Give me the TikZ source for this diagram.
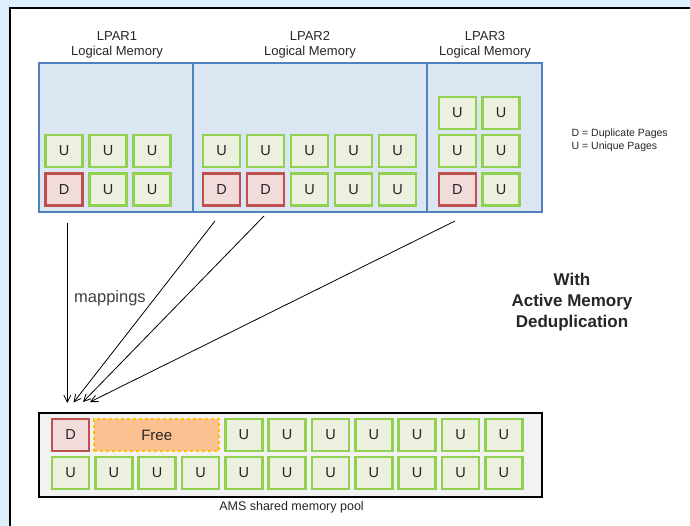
\documentclass[tikz,border=0pt]{standalone}
\usepackage{fontspec}
\setmainfont{Liberation Sans}
\usetikzlibrary{arrows.meta}
\definecolor{bgblue}{HTML}{DDEEFD}
\definecolor{lparfill}{HTML}{DCE6F2}
\definecolor{lparline}{HTML}{4F81BD}
\definecolor{ugreen}{HTML}{92D050}
\definecolor{ufill}{HTML}{EBF1DE}
\definecolor{dred}{HTML}{C0504D}
\definecolor{dfill}{HTML}{F2DCDB}
\definecolor{freefill}{HTML}{FAC090}
\definecolor{freeline}{HTML}{FFC000}
\definecolor{poolfill}{HTML}{F2F2F2}
\definecolor{txt}{HTML}{262626}
\tikzset{
  tile/.style={rectangle, minimum width=37pt, minimum height=32pt, inner sep=0pt,
    line width=2.5pt, text=txt, font=\fontsize{14.5}{16}\selectfont},
  upage/.style={tile, draw=ugreen, fill=ufill},
  dpage/.style={tile, draw=dred, fill=dfill},
  freebox/.style={rectangle, minimum width=125pt, minimum height=32pt, inner sep=0pt,
    draw=freeline, fill=freefill, dashed, line width=1.5pt, text=txt,
    font=\fontsize{15}{17}\selectfont},
  lpar/.style={draw=lparline, fill=lparfill, line width=1.8pt},
  lbl/.style={font=\fontsize{13}{15}\selectfont, text=txt, inner sep=0pt},
  legend/.style={font=\fontsize{10.5}{12}\selectfont, text=txt, inner sep=0pt, anchor=west},
  maparrow/.style={-{Straight Barb[length=7pt,width=7pt]}, line width=0.8pt, black},
}
\begin{document}
\begin{tikzpicture}[x=1pt,y=-1pt]
\useasboundingbox (0,0) rectangle (690,526);
\fill[bgblue] (0,0) rectangle (690,526);
\fill[white] (10,8) rectangle (690,526);
\draw[line width=1.2pt] (10,526) -- (10,8) -- (690,8);

% LPAR boxes
\draw[lpar] (39,63) rectangle (193,212);
\draw[lpar] (193,63) rectangle (427,212);
\draw[lpar] (427,63) rectangle (542,212);

\node[lbl] (l1a) at (117,36) {LPAR1};
\node[lbl] (l1b) at (117,52) {Logical Memory};
\node[lbl] (l2a) at (310,36) {LPAR2};
\node[lbl] (l2b) at (310,52) {Logical Memory};
\node[lbl] (l3a) at (485,36) {LPAR3};
\node[lbl] (l3b) at (485,52) {Logical Memory};

% LPAR1 pages
\node[upage] (p1a) at (64,151) {U};
\node[upage] (p1b) at (108,151) {U};
\node[upage] (p1c) at (152,151) {U};
\node[dpage] (p1d) at (64,189.5) {D};
\node[upage] (p1e) at (108,189.5) {U};
\node[upage] (p1f) at (152,189.5) {U};

% LPAR2 pages
\foreach \x [count=\i] in {221.5,265.5,309.5,353.5,397.5} {
  \node[upage] (p2t\i) at (\x,151) {U};
}
\node[dpage] (p2b1) at (221.5,189.5) {D};
\node[dpage] (p2b2) at (265.5,189.5) {D};
\node[upage] (p2b3) at (309.5,189.5) {U};
\node[upage] (p2b4) at (353.5,189.5) {U};
\node[upage] (p2b5) at (397.5,189.5) {U};

% LPAR3 pages
\node[upage] (p3a) at (457.3,113) {U};
\node[upage] (p3b) at (501,113) {U};
\node[upage] (p3c) at (457.3,151) {U};
\node[upage] (p3d) at (501,151) {U};
\node[dpage] (p3e) at (457.3,189.5) {D};
\node[upage] (p3f) at (501,189.5) {U};

% legend
\node[legend] (leg1) at (571.5,134) {D = Duplicate Pages};
\node[legend] (leg2) at (571.5,146.5) {U = Unique Pages};

% arrows
\coordinate (s1) at (67.3,223);
\coordinate (s2) at (215,221);
\coordinate (s3) at (264,216);
\coordinate (s4) at (455,221);
\coordinate (e1) at (67.3,403);
\coordinate (e2) at (73.5,402.5);
\coordinate (e3) at (83,402);
\coordinate (e4) at (90,402);
\draw[maparrow] (s1) -- (e1);
\draw[maparrow] (s2) -- (e2);
\draw[maparrow] (s3) -- (e3);
\draw[maparrow] (s4) -- (e4);

\node[font=\fontsize{16.5}{18}\selectfont, text=black!75, inner sep=0pt, anchor=west] (map) at (74,298) {mappings};

\node[font=\bfseries\fontsize{17}{21}\selectfont, align=center, inner sep=0pt, text=txt] (title) at (572,302) {With\\Active Memory\\Deduplication};

% pool
\draw[line width=2.2pt, fill=poolfill] (39.3,413.3) rectangle (542.3,496.7);
\node[dpage] (q0) at (70.5,435) {D};
\node[freebox] (free) at (156.7,435) {Free};
\foreach \x [count=\i] in {243.8,287.2,330.5,373.8,417.2,460.5,503.8} {
  \node[upage] (qt\i) at (\x,435) {U};
}
\foreach \x [count=\i] in {70.5,113.8,157.2,200.5,243.8,287.2,330.5,373.8,417.2,460.5,503.8} {
  \node[upage] (qb\i) at (\x,473) {U};
}
\node[font=\fontsize{12.5}{14}\selectfont, text=txt, inner sep=0pt] (pool) at (291.5,507.5) {AMS shared memory pool};
\end{tikzpicture}
\end{document}
